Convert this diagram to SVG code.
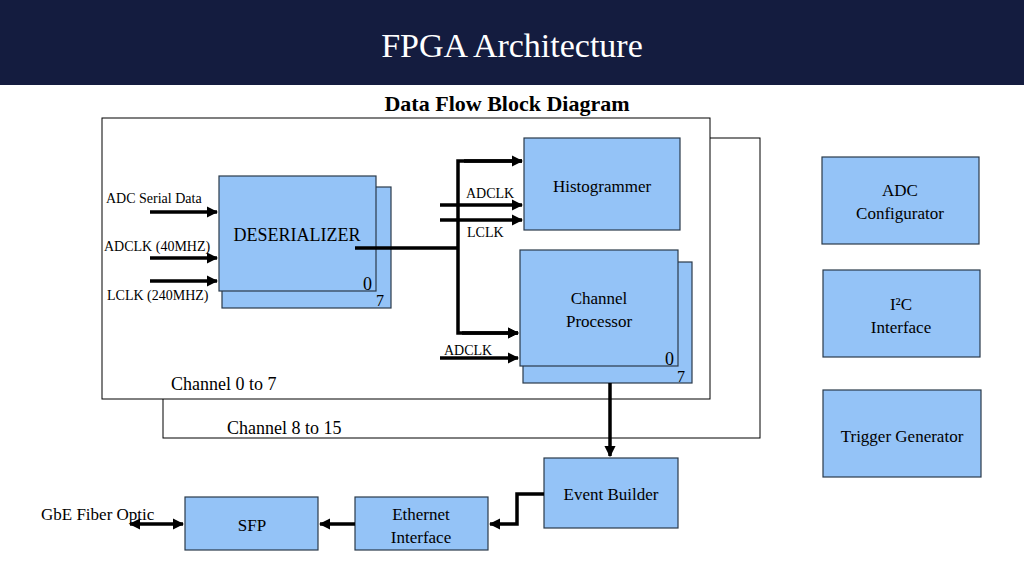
<svg xmlns="http://www.w3.org/2000/svg" width="1024" height="576" viewBox="0 0 1024 576">
<style>
text{font-family:"Liberation Serif","Times New Roman",serif;fill:#000}
.b{fill:#94c3f7;stroke:#2a3a4a;stroke-width:1.2}
.f{fill:#fff;stroke:#000;stroke-width:1}
.l{stroke:#000;stroke-width:3.5;fill:none}
.m{font-size:18px;text-anchor:middle}
.s{font-size:14px}
</style>
<defs>
<marker id="a" viewBox="0 0 10 10" refX="9" refY="5" markerWidth="3.2" markerHeight="3.2" orient="auto-start-reverse"><path d="M0,0L10,5L0,10z" fill="#000"/></marker>
</defs>
<rect x="0" y="0" width="1024" height="85" fill="#141c3f"/>
<text x="512" y="57" font-size="34" text-anchor="middle" style="fill:#fff">FPGA Architecture</text>
<text x="507" y="111" font-size="22" font-weight="bold" text-anchor="middle">Data Flow Block Diagram</text>
<g id="ch815"><rect class="f" x="163" y="138" width="597" height="300"/><text x="227" y="434" class="m" style="text-anchor:start">Channel 8 to 15</text></g>
<g id="ch07"><rect class="f" x="102" y="118" width="608" height="281"/><text x="171" y="390" class="m" style="text-anchor:start">Channel 0 to 7</text></g>
<g id="deser"><rect class="b" x="222" y="187" width="169" height="121"/><rect class="b" x="219" y="176" width="157" height="115"/><text x="297" y="241" class="m">DESERIALIZER</text><text x="363" y="290" class="m" style="text-anchor:start">0</text><text x="376" y="306" class="s" style="text-anchor:start;font-size:16px">7</text></g>
<g id="histo"><rect class="b" x="524" y="138" width="156" height="92"/><text x="602" y="192" class="m" style="font-size:17px">Histogrammer</text></g>
<g id="cp"><rect class="b" x="523" y="262" width="169" height="121"/><rect class="b" x="520" y="250" width="158" height="116"/><text x="599" y="304" class="m" style="font-size:17px">Channel</text><text x="599" y="327" class="m" style="font-size:17px">Processor</text><text x="665" y="365" class="m" style="text-anchor:start">0</text><text x="677" y="382" style="font-size:16px">7</text></g>
<g id="eb"><rect class="b" x="544" y="458" width="134" height="70"/><text x="611" y="500" class="m" style="font-size:17px">Event Builder</text></g>
<g id="eth"><rect class="b" x="355" y="497" width="133" height="53"/><text x="421" y="520" class="m" style="font-size:17px">Ethernet</text><text x="421" y="543" class="m" style="font-size:17px">Interface</text></g>
<g id="sfp"><rect class="b" x="185" y="497" width="133" height="53"/><text x="252" y="531" class="m" style="font-size:17px">SFP</text></g>
<g id="adccfg"><rect class="b" x="822" y="157" width="157" height="87"/><text x="900" y="196" class="m" style="font-size:17px">ADC</text><text x="900" y="219" class="m" style="font-size:17px">Configurator</text></g>
<g id="i2c"><rect class="b" x="823" y="270" width="157" height="87"/><text x="901" y="310" class="m" style="font-size:17px">I²C</text><text x="901" y="333" class="m" style="font-size:17px">Interface</text></g>
<g id="trig"><rect class="b" x="823" y="390" width="158" height="87"/><text x="902" y="442" class="m" style="font-size:17px">Trigger Generator</text></g>
<g id="labels">
<text x="106" y="203" class="s">ADC Serial Data</text>
<text x="104" y="251" class="s">ADCLK (40MHZ)</text>
<text x="107" y="300" class="s">LCLK (240MHZ)</text>
<text x="466" y="198" class="s">ADCLK</text>
<text x="467" y="237" class="s">LCLK</text>
<text x="444" y="355" class="s">ADCLK</text>
<text x="41" y="520" class="m" style="text-anchor:start;font-size:17px">GbE Fiber Optic</text>
</g>
<g id="connectors">
<path class="l" d="M150,212H217" marker-end="url(#a)"/>
<path class="l" d="M150,258H217" marker-end="url(#a)"/>
<path class="l" d="M150,281H217" marker-end="url(#a)"/>
<path class="l" d="M355,248H458"/>
<path class="l" d="M522,161H458V333H518" marker-end="url(#a)"/>
<path class="l" d="M462,333H518" marker-end="url(#a)"/>
<path class="l" d="M464,161H522" marker-end="url(#a)"/>
<path class="l" d="M440,205H522" marker-end="url(#a)"/>
<path class="l" d="M440,220H522" marker-end="url(#a)"/>
<path class="l" d="M440,358H518" marker-end="url(#a)"/>
<path class="l" d="M610,383V456" marker-end="url(#a)"/>
<path class="l" d="M544,494H517V524H490" marker-end="url(#a)"/>
<path class="l" d="M355,524H320" marker-end="url(#a)"/>
<path class="l" d="M130,524H183" marker-start="url(#a)" marker-end="url(#a)"/>
</g>
</svg>
